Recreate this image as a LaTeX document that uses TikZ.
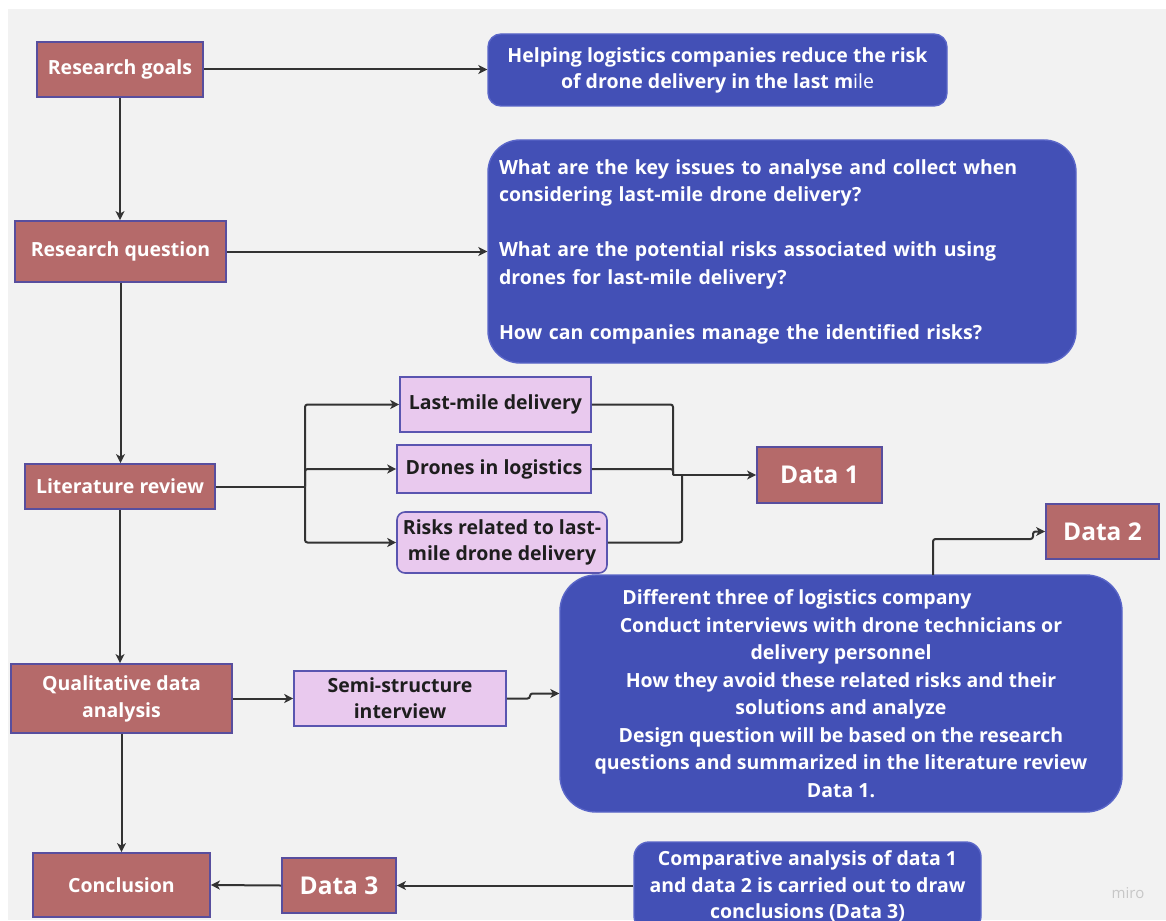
\documentclass[tikz,border=0pt]{standalone}
\usepackage{fontspec}
\setmainfont{Open Sans}
\usetikzlibrary{arrows.meta}
\definecolor{bg}{HTML}{F2F2F2}
\definecolor{rose}{HTML}{B56A6A}
\definecolor{rosebd}{HTML}{584E9E}
\definecolor{bluef}{HTML}{4350B6}
\definecolor{bluebd}{HTML}{5A66C8}
\definecolor{pinkf}{HTML}{E9C9EE}
\definecolor{pinkbd}{HTML}{5A55B0}
\definecolor{lin}{HTML}{333333}
\definecolor{txt}{HTML}{1E1E1E}
\tikzset{
  base/.style={inner sep=0pt, align=center, font=\bfseries\fontsize{19.5}{26}\selectfont},
  rosebox/.style={base, fill=rose, draw=rosebd, line width=1.8pt, text=white},
  databox/.style={rosebox, font=\bfseries\fontsize{24.5}{28}\selectfont},
  pinkbox/.style={base, fill=pinkf, draw=pinkbd, line width=1.6pt, text=txt},
  bluebox/.style={base, fill=bluef, draw=bluebd, line width=1.4pt, text=white},
  conn/.style={draw=lin, line width=2pt, rounded corners=2.5pt},
  arr/.style={conn, -{Stealth[length=9pt, width=9pt, inset=2.5pt]}},
}
\begin{document}
\begin{tikzpicture}[x=1pt, y=-1pt]
\useasboundingbox (0,0) rectangle (1166,920);
\clip (0,0) rectangle (1166,920);
\fill[white] (0,0) rectangle (1166,920);
\fill[bg] (8,9) rectangle (1166,920);

% left column
\node[rosebox, minimum width=166, minimum height=55] (rg) at (120,69.5) {Research goals};
\node[rosebox, minimum width=211, minimum height=61] (rq) at (120.5,251.5) {Research question};
\node[rosebox, minimum width=190, minimum height=45] (lr) at (120,486.5) {Literature review};
\node[rosebox, minimum width=221, minimum height=69, font=\bfseries\fontsize{19.5}{27}\selectfont] (qda) at (121.5,698.5) {Qualitative data\\analysis};
\node[rosebox, minimum width=177, minimum height=64] (concl) at (121.5,885) {Conclusion};

% blue boxes
\node[bluebox, rounded corners=13pt, minimum width=459, minimum height=72] (goal) at (717.5,70)
  {Helping logistics companies reduce the risk\\of drone delivery in the last m{\mdseries ile}};
\node[bluebox, rounded corners=32pt, minimum width=588, minimum height=223, text width=566, align=left,
      font=\bfseries\fontsize{19.5}{27.5}\selectfont] (quest) at (782,251.5)
  {What are the key issues to analyse and collect when\\
   considering last-mile drone delivery?\\[27.5pt]
   What are the potential risks associated with using\\
   drones for last-mile delivery?\\[27.5pt]
   How can companies manage the identified risks?};
\node[bluebox, rounded corners=36pt, minimum width=562, minimum height=237,
      font=\bfseries\fontsize{19.5}{27.5}\selectfont] (big) at (841,693.5)
  {Different three of logistics company\hspace*{88pt}\\
   Conduct interviews with drone technicians or\\
   delivery personnel\\
   How they avoid these related risks and their\\
   solutions and analyze\\
   Design question will be based on the research\\
   questions and summarized in the literature review\\
   Data 1.};
\node[bluebox, rounded corners=15pt, minimum width=347, minimum height=89,
      font=\bfseries\fontsize{19.5}{26.5}\selectfont] (comp) at (807.5,886.5)
  {Comparative analysis of data 1\\and data 2 is carried out to draw\\conclusions (Data 3)};

% pink boxes
\node[pinkbox, minimum width=191, minimum height=55] (lm) at (495.5,404.5) {Last-mile delivery};
\node[pinkbox, minimum width=194, minimum height=48] (dl) at (494,469) {Drones in logistics};
\node[pinkbox, rounded corners=8pt, minimum width=210, minimum height=61] (rr) at (502,542.5) {Risks related to last-\\mile drone delivery};
\node[pinkbox, minimum width=212, minimum height=55] (semi) at (400,698.5) {Semi-structure\\interview};

% data boxes
\node[databox, minimum width=125, minimum height=56] (d1) at (819.5,475) {Data 1};
\node[databox, minimum width=113, minimum height=55] (d2) at (1102.5,531.5) {Data 2};
\node[databox, minimum width=114, minimum height=55] (d3) at (339,885.5) {Data 3};

\node[text=black!22, font=\fontsize{15}{18}\selectfont] (miro) at (1128,893) {miro};

% helper coordinates
\coordinate (sp) at (305,486.5);
\coordinate (j1) at (673,475);
\coordinate (j2) at (682,475);
\coordinate (bigtop) at (933,575);
\coordinate (semijog) at (530,698.5);

% connectors
\draw[arr] (rg.east) -- (rg.east -| goal.west);
\draw[arr] (rg.south) -- (rg.south |- rq.north);
\draw[arr] (rq.east) -- (rq.east -| quest.west);
\draw[arr] (rq.south) -- (rq.south |- lr.north);
\draw[conn] (lr.east) -- (sp);
\draw[arr] (sp) |- (lm.west);
\draw[arr] (sp) |- (dl.west);
\draw[arr] (sp) |- (rr.west);
\draw[conn] (lm.east) -| (j1);
\draw[conn] (dl.east) -| (j1);
\draw[conn] (rr.east) -| (j2);
\draw[arr] (j1) -- (j1 -| d1.west);
\draw[arr] (lr.south) -- (lr.south |- qda.north);
\draw[arr] (qda.east) -- (qda.east -| semi.west);
\draw[arr] (semi.east) -- (semijog) |- (big.west);
\draw[arr] (bigtop) |- (1033,539) |- (d2.west);
\draw[arr] (qda.south) -- (qda.south |- concl.north);
\draw[arr] (comp.west |- d3.east) -- (d3.east);
\draw[arr] (d3.west) -- (concl.east);
\end{tikzpicture}
\end{document}
